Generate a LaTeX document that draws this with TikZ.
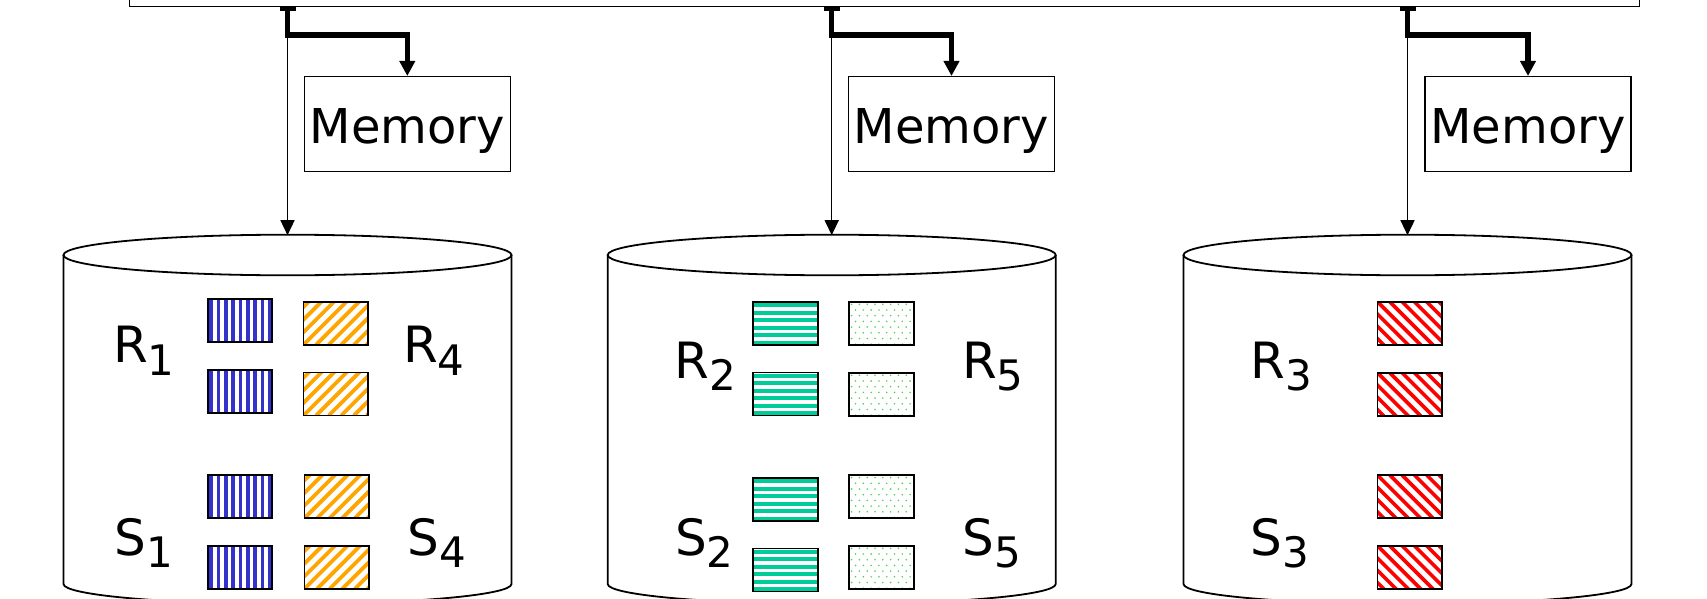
\documentclass[tikz,border=0pt]{standalone}
\usepackage{fontspec}
\setmainfont{DejaVu Sans}
\usetikzlibrary{arrows.meta}

\definecolor{stripeblue}{RGB}{51,51,204}
\definecolor{stripeorange}{RGB}{255,165,0}
\definecolor{stripegreen}{RGB}{0,204,153}
\definecolor{dotgreen}{RGB}{80,210,80}
\definecolor{stripered}{RGB}{255,0,0}

% relation name with a large lowered index
\newcommand\relname[2]{#1\raisebox{-12.3pt}{\fontsize{42}{42}\selectfont #2}}

% disk drawn as an upright cylinder; #1 = centre x, #2 = name of its top point
\newcommand\drum[2]{%
  \draw[drumline] (#1,255) ellipse [x radius=224pt, y radius=20.3pt];
  \draw[drumline] (#1-224,255) -- (#1-224,584)
    arc[start angle=180, end angle=360, x radius=224pt, y radius=20pt]
    -- (#1+224,255);
  \coordinate (#2) at (#1,235.2);
}

\begin{document}
\begin{tikzpicture}[x=1pt, y=-1pt,
  drumline/.style={line width=1.8pt},
  hostbox/.style={draw, line width=1.5pt, inner sep=0, minimum width=1510pt,
    minimum height=60pt, anchor=south west},
  membox/.style={draw, line width=1.5pt, inner sep=0, minimum width=206pt,
    minimum height=94.5pt, font=\fontsize{48}{50}\selectfont,
    text height=50pt, text depth=11.4pt},
  lbl/.style={anchor=base west, inner sep=0, font=\fontsize{50}{50}\selectfont},
  link/.style={line width=1.5pt, -{Triangle[width=14pt,length=15pt]}},
  feed/.style={line width=5.5pt,
    {Rectangle[length=4pt,width=16pt]}-{Triangle[width=15pt,length=15pt]}},
  blk/.style={draw, line width=1.8pt, inner sep=0, minimum width=64.5pt,
    minimum height=43pt, anchor=north west},
  vstripes/.style={path picture={
    \foreach \k in {0,...,9}
      \fill[stripeblue] ([xshift=1.6pt+\k*7.33pt, yshift=2pt]path picture bounding box.north west)
        rectangle ++(3.7pt,-60pt);}},
  hstripes/.style={path picture={
    \foreach \k in {0,...,6}
      \fill[stripegreen] ([xshift=-2pt, yshift=-1.2pt-\k*7.5pt]path picture bounding box.north west)
        rectangle ++(80pt,-4pt);}},
  nestripes/.style={path picture={
    \foreach \k in {-7,...,6}
      \draw[stripeorange, line width=3.8pt] ([xshift=\k*12.6pt]path picture bounding box.south west)
        -- ++(70pt,70pt);}},
  sestripes/.style={path picture={
    \foreach \k in {-7,...,6}
      \draw[stripered, line width=3.6pt] ([xshift=\k*12.3pt]path picture bounding box.north west)
        -- ++(70pt,-70pt);}},
  dotted/.style={path picture={
    \foreach \r [evaluate=\r as \off using {mod(\r,2)*3.9}] in {0,...,7}
      \foreach \c in {0,...,8}
        \fill[dotgreen] ([xshift=2.5pt+\c*7.8pt+\off*1pt, yshift=-2.5pt-\r*5.7pt]path picture bounding box.north west)
          circle (0.9pt);}},
]
\useasboundingbox (0,0) rectangle (1707,599);

% shared host above the nodes
\node[hostbox] (host) at (128.5,7.5) {};

% disks
\drum{287.5}{d1}
\drum{831.7}{d2}
\drum{1407.5}{d3}

% local memories
\node[membox] (mem1) at (407.3,124) {Memory};
\node[membox] (mem2) at (951.5,124) {Memory};
\node[membox] (mem3) at (1528,124) {Memory};

% host to disk and host to memory
\draw[link] (host.south -| d1) -- (d1);
\draw[link] (host.south -| d2) -- (d2);
\draw[link] (host.south -| d3) -- (d3);
\draw[feed] (host.south -| d1) |- ([yshift=41pt]mem1.north) -- (mem1.north);
\draw[feed] (host.south -| d2) |- ([yshift=41pt]mem2.north) -- (mem2.north);
\draw[feed] (host.south -| d3) |- ([yshift=41pt]mem3.north) -- (mem3.north);

% disk 1: partitions 1 and 4
\node[blk, vstripes] (r1a) at (206.9,298.2) {};
\node[blk, vstripes] (r1b) at (206.9,368.9) {};
\node[blk, vstripes] (s1a) at (206.9,474.2) {};
\node[blk, vstripes] (s1b) at (206.9,544.9) {};
\node[blk, nestripes] (r4a) at (302.6,300.9) {};
\node[blk, nestripes] (r4b) at (302.6,371.6) {};
\node[blk, nestripes] (s4a) at (303.6,474.2) {};
\node[blk, nestripes] (s4b) at (303.6,544.9) {};
\node[lbl] (lr1) at (112.8,362.7) {\relname{R}{1}};
\node[lbl] (lr4) at (402.8,362.7) {\relname{R}{4}};
\node[lbl] (ls1) at (114.4,555) {\relname{S}{1}};
\node[lbl] (ls4) at (407.7,555) {\relname{S}{4}};

% disk 2: partitions 2 and 5
\node[blk, hstripes] (r2a) at (752.4,300.9) {};
\node[blk, hstripes] (r2b) at (752.4,371.6) {};
\node[blk, hstripes] (s2a) at (752.4,476.9) {};
\node[blk, hstripes] (s2b) at (752.4,547.6) {};
\node[blk, dotted] (r5a) at (848.2,300.9) {};
\node[blk, dotted] (r5b) at (848.2,371.9) {};
\node[blk, dotted] (s5a) at (848.2,474.2) {};
\node[blk, dotted] (s5b) at (848.2,544.9) {};
\node[lbl] (lr2) at (674.1,378.3) {\relname{R}{2}};
\node[lbl] (lr5) at (961.8,378.3) {\relname{R}{5}};
\node[lbl] (ls2) at (675,555) {\relname{S}{2}};
\node[lbl] (ls5) at (962.7,555) {\relname{S}{5}};

% disk 3: partition 3
\node[blk, sestripes] (r3a) at (1376.6,300.9) {};
\node[blk, sestripes] (r3b) at (1376.6,371.9) {};
\node[blk, sestripes] (s3a) at (1376.6,474.2) {};
\node[blk, sestripes] (s3b) at (1376.6,544.9) {};
\node[lbl] (lr3) at (1250.1,378.3) {\relname{R}{3}};
\node[lbl] (ls3) at (1250.7,555) {\relname{S}{3}};
\end{tikzpicture}
\end{document}
